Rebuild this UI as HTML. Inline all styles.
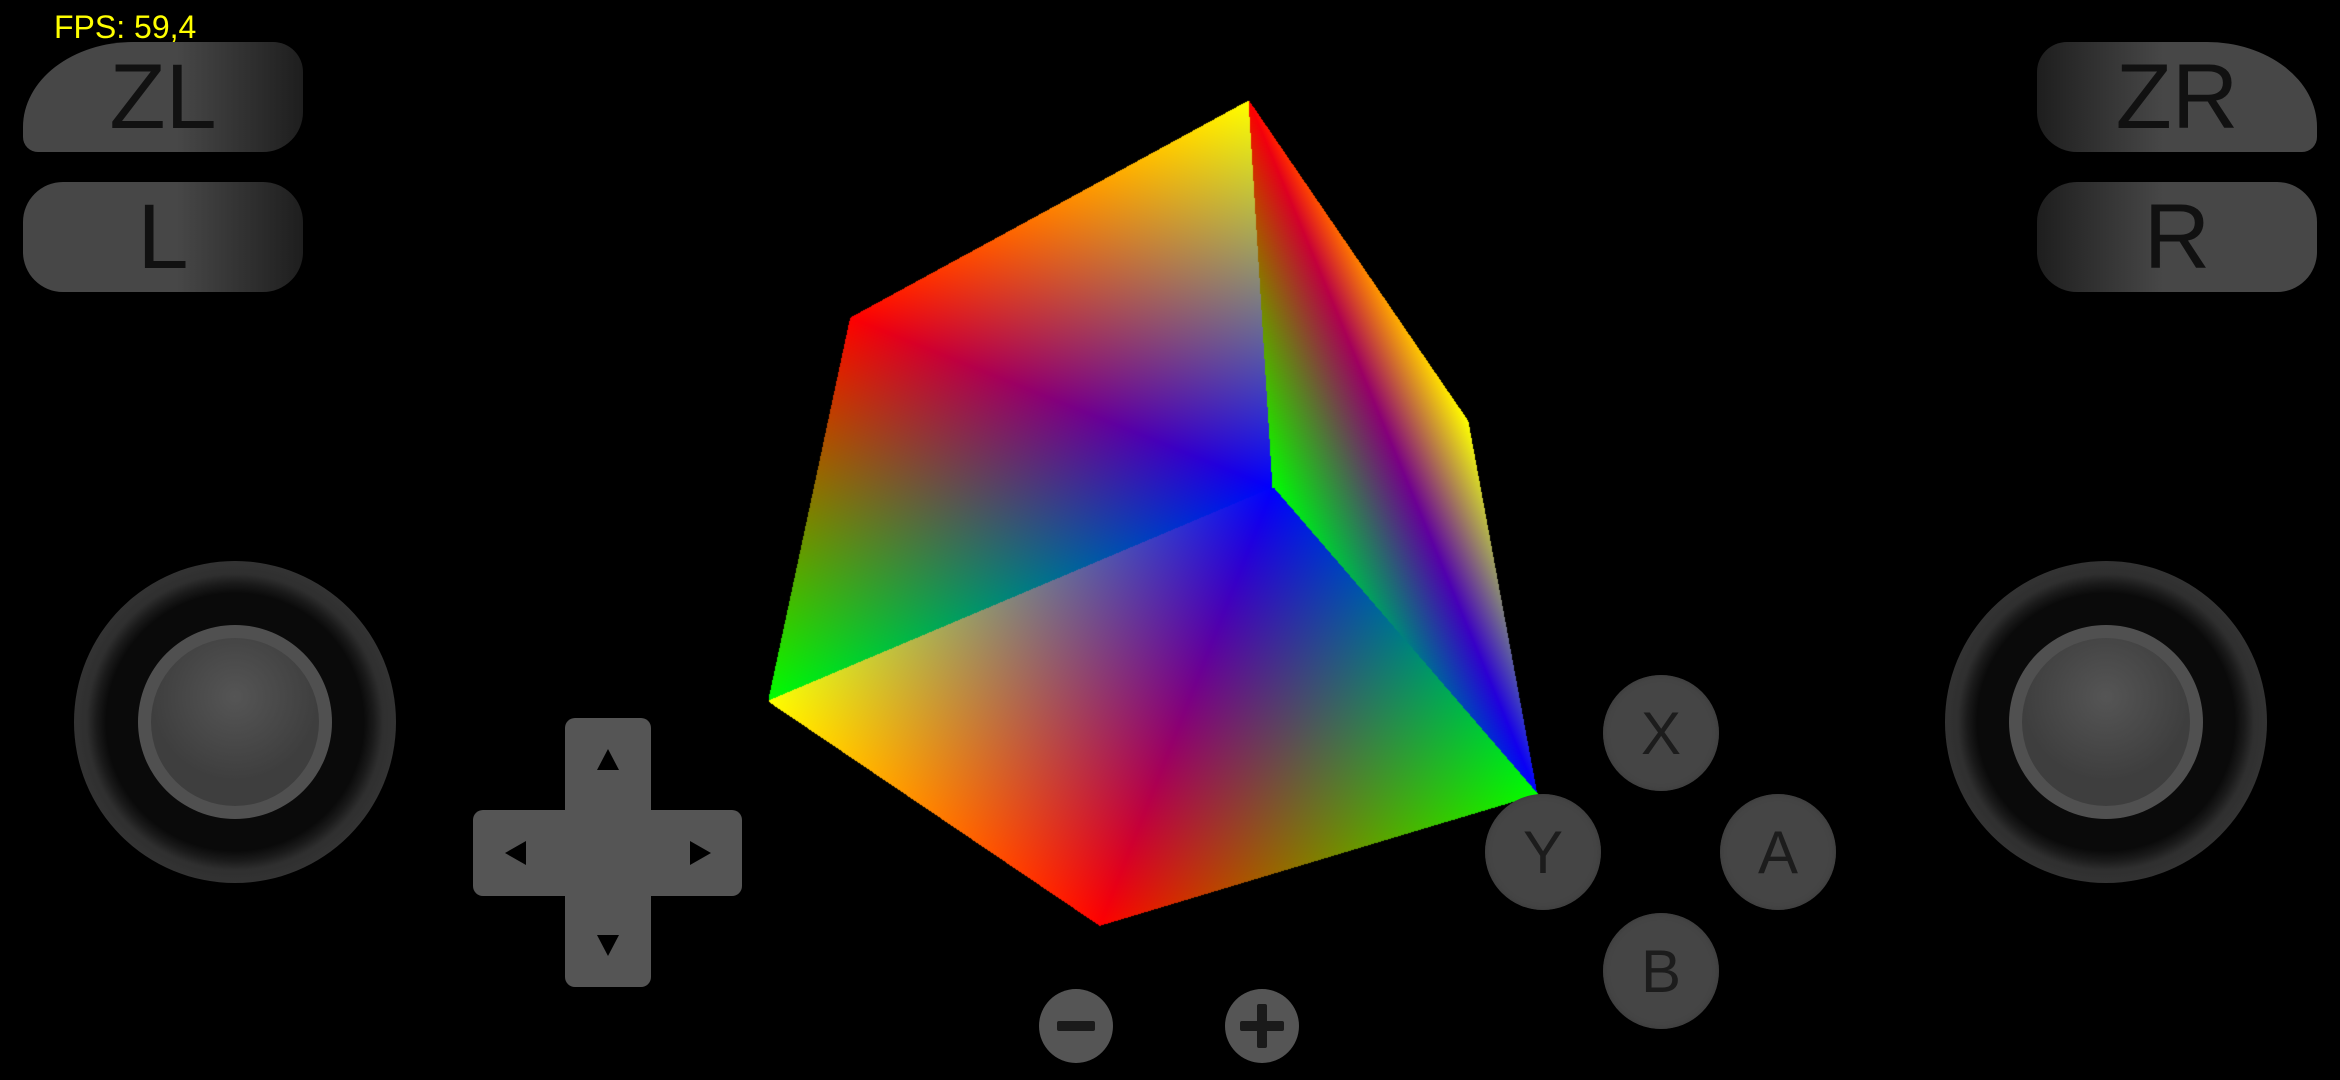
<!DOCTYPE html>
<html><head><meta charset="utf-8"><style>
html,body{margin:0;padding:0;background:#000;width:2340px;height:1080px;overflow:hidden}
body{position:relative;font-family:"Liberation Sans",sans-serif}
.abs{position:absolute}
.sh{display:flex;align-items:center;justify-content:center;color:#111;font-size:92px;box-sizing:border-box}
.shl{background:linear-gradient(90deg,#474747 0%,#474747 55%,#1e1e1e 100%)}
.shr{background:linear-gradient(270deg,#474747 0%,#474747 55%,#1e1e1e 100%)}
.fb{width:116px;height:116px;border-radius:50%;background:#454545;box-shadow:inset 0 0 6px #3a3a3a;color:#1c1c1c;font-size:60px;display:flex;align-items:center;justify-content:center}
</style></head><body>
<div class="abs" style="left:54px;top:9px;color:#ffff00;font-size:32px">FPS: 59,4</div>

<div class="abs sh shl" style="left:23px;top:42px;width:280px;height:110px;border-radius:110px 30px 40px 15px / 85px 30px 40px 15px">ZL</div>
<div class="abs sh shl" style="left:23px;top:182px;width:280px;height:110px;border-radius:40px">L</div>
<div class="abs sh shr" style="left:2037px;top:42px;width:280px;height:110px;border-radius:30px 110px 15px 40px / 30px 85px 15px 40px">ZR</div>
<div class="abs sh shr" style="left:2037px;top:182px;width:280px;height:110px;border-radius:40px">R</div>

<canvas id="cube" class="abs" width="2340" height="1080" style="left:0;top:0"></canvas>

<svg class="abs" style="left:0;top:0" width="2340" height="1080">
<defs>
<radialGradient id="ring"><stop offset="0.8" stop-color="#0a0a0a"/><stop offset="0.86" stop-color="#1a1a1a"/><stop offset="0.92" stop-color="#2f2f2f"/><stop offset="1" stop-color="#333"/></radialGradient>
<radialGradient id="knob" cx="0.5" cy="0.35"><stop offset="0" stop-color="#555"/><stop offset="1" stop-color="#3e3e3e"/></radialGradient>
</defs>
<g>
<circle cx="235" cy="722" r="161" fill="url(#ring)"/>
<circle cx="235" cy="722" r="97" fill="#505050"/>
<circle cx="235" cy="722" r="84" fill="url(#knob)"/>
</g>
<g>
<circle cx="2106" cy="722" r="161" fill="url(#ring)"/>
<circle cx="2106" cy="722" r="97" fill="#505050"/>
<circle cx="2106" cy="722" r="84" fill="url(#knob)"/>
</g>
<g>
<rect x="565" y="718" width="86" height="269" rx="10" fill="#555"/>
<rect x="473" y="810" width="269" height="86" rx="10" fill="#555"/>
<polygon points="608,749 597,770 619,770" fill="#000"/>
<polygon points="608,956 597,935 619,935" fill="#000"/>
<polygon points="505,853 526,841 526,865" fill="#000"/>
<polygon points="711,853 690,841 690,865" fill="#000"/>
</g>
<g>
<circle cx="1076" cy="1026" r="37" fill="#555"/>
<rect x="1057" y="1021" width="38" height="10" rx="2" fill="#1a1a1a"/>
</g>
<g>
<circle cx="1262" cy="1026" r="37" fill="#555"/>
<rect x="1240" y="1021" width="44" height="10" rx="2" fill="#1a1a1a"/>
<rect x="1257" y="1004" width="10" height="44" rx="2" fill="#1a1a1a"/>
</g>
</svg>

<div class="abs fb" style="left:1603px;top:675px">X</div>
<div class="abs fb" style="left:1485px;top:794px">Y</div>
<div class="abs fb" style="left:1720px;top:794px">A</div>
<div class="abs fb" style="left:1603px;top:913px">B</div>

<script>
const faceNames=['left-face','right-face','bottom-face'];
const faceVerts=[
 [[851,318],[1249,101],[1273,488],[769,701]],
 [[1249,101],[1468,421],[1537,794],[1273,488]],
 [[769,701],[1273,488],[1537,794],[1100,925]]
];
const faceColors=[
 [[255,0,0],[255,255,0],[0,0,255],[0,255,0]],
 [[255,0,0],[255,255,0],[0,0,255],[0,255,0]],
 [[255,255,0],[0,0,255],[0,255,0],[255,0,0]]
];
const faceDiag=[0,0,1];
const cv=document.getElementById('cube');
const ctx=cv.getContext('2d');
const img=ctx.createImageData(cv.width,cv.height);
const D=img.data;
function drawTri(P,C){
 const [a,b,c]=P;
 const minX=Math.floor(Math.min(a[0],b[0],c[0])),maxX=Math.ceil(Math.max(a[0],b[0],c[0]));
 const minY=Math.floor(Math.min(a[1],b[1],c[1])),maxY=Math.ceil(Math.max(a[1],b[1],c[1]));
 const den=(b[1]-c[1])*(a[0]-c[0])+(c[0]-b[0])*(a[1]-c[1]);
 const eps=-0.002;
 for(let y=minY;y<=maxY;y++)for(let x=minX;x<=maxX;x++){
  const px=x+0.5,py=y+0.5;
  const w0=((b[1]-c[1])*(px-c[0])+(c[0]-b[0])*(py-c[1]))/den;
  const w1=((c[1]-a[1])*(px-c[0])+(a[0]-c[0])*(py-c[1]))/den;
  const w2=1-w0-w1;
  if(w0<eps||w1<eps||w2<eps)continue;
  const i=(y*cv.width+x)*4;
  for(let k=0;k<3;k++)D[i+k]=Math.round(w0*C[0][k]+w1*C[1][k]+w2*C[2][k]);
  D[i+3]=255;
 }
}
for(let f=0;f<faceVerts.length;f++){
 const P=faceVerts[f],C=faceColors[f];
 if(faceDiag[f]===0){
  drawTri([P[0],P[1],P[2]],[C[0],C[1],C[2]]);
  drawTri([P[0],P[2],P[3]],[C[0],C[2],C[3]]);
 }else{
  drawTri([P[1],P[2],P[3]],[C[1],C[2],C[3]]);
  drawTri([P[1],P[3],P[0]],[C[1],C[3],C[0]]);
 }
}
ctx.putImageData(img,0,0);
</script>
</body></html>
